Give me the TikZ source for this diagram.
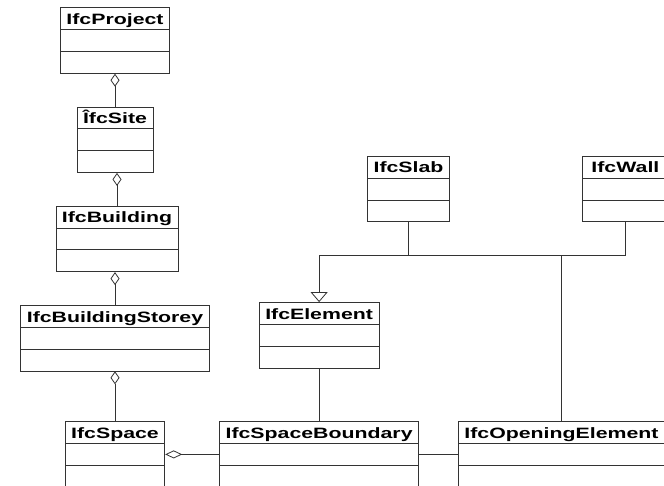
\documentclass[tikz,border=0pt]{standalone}
\usepackage{fontspec}
\newfontfamily\classfont{Liberation Sans}[FakeStretch=1.42]
\usetikzlibrary{positioning,arrows.meta,shapes.multipart}

\begin{document}
\begin{tikzpicture}[
  x=1pt, y=-1pt,
  node distance=33pt,
  umlclass/.style={draw=black!80, line width=0.8pt, fill=white, rectangle split, rectangle split parts=3,
    inner xsep=6pt, inner ysep=0pt, font=\classfont\bfseries\fontsize{15}{18}\selectfont},
  agg/.style={draw=black!80, line width=0.8pt, -{Diamond[open, length=13pt, width=9pt]}},
  gen/.style={draw=black!80, line width=0.8pt, -{Triangle[open, length=10pt, width=17pt]}},
  assoc/.style={draw=black!80, line width=0.8pt}
]
  \newcommand{\slot}{\rule[-4.8pt]{0pt}{21pt}}
  \newcommand{\classbody}[1]{\slot #1\nodepart{two}\slot\nodepart{three}\slot}
  \clip (0,0) rectangle (664,486);

  % spatial containment (left column)
  \node[umlclass, anchor=north] (project) at (115,7.5) {\classbody{IfcProject}};
  \node[umlclass, below=of project] (site) {\classbody{ÎfcSite}};
  \node[umlclass, below=of site, xshift=2pt] (building) {\classbody{IfcBuilding}};
  \node[umlclass, below=of building, xshift=-2pt] (storey) {\classbody{IfcBuildingStorey}};
  \node[umlclass, below=50pt of storey] (space) {\classbody{IfcSpace}};
  \draw[agg] (site.north) -- (site.north |- project.south);
  \draw[agg] (building.north) -- (building.north |- site.south);
  \draw[agg] (storey.north) -- (storey.north |- building.south);
  \draw[agg] (space.north) -- (space.north |- storey.south);

  % boundaries and elements (bottom row)
  \node[umlclass, right=54pt of space] (boundary) {\classbody{IfcSpaceBoundary}};
  \node[umlclass, right=39pt of boundary] (opening) {\classbody{IfcOpeningElement}};
  \node[umlclass, above=53pt of boundary] (element) {\classbody{IfcElement}};
  \draw[agg, -{Diamond[open, length=17pt, width=8pt]}] (boundary.two west) -- (space.two east);
  \draw[assoc] (boundary.two east) -- (opening.two west);
  \draw[assoc] (element.south) -- (boundary.north);

  % building elements (top right)
  \node[umlclass, anchor=north] (slab) at (408.5,156) {\classbody{IfcSlab}};
  \node[umlclass, anchor=north west, minimum width=86pt] (wall) at (582,156) {\classbody{IfcWall}};
  \path (slab.south) ++(0,33) coordinate (bus);
  \draw[gen] (slab.south) -- (bus) -| (element.north);
  \draw[assoc] (wall.south) |- (bus);
  \draw[assoc] (opening.north) |- (bus);
\end{tikzpicture}
\end{document}
